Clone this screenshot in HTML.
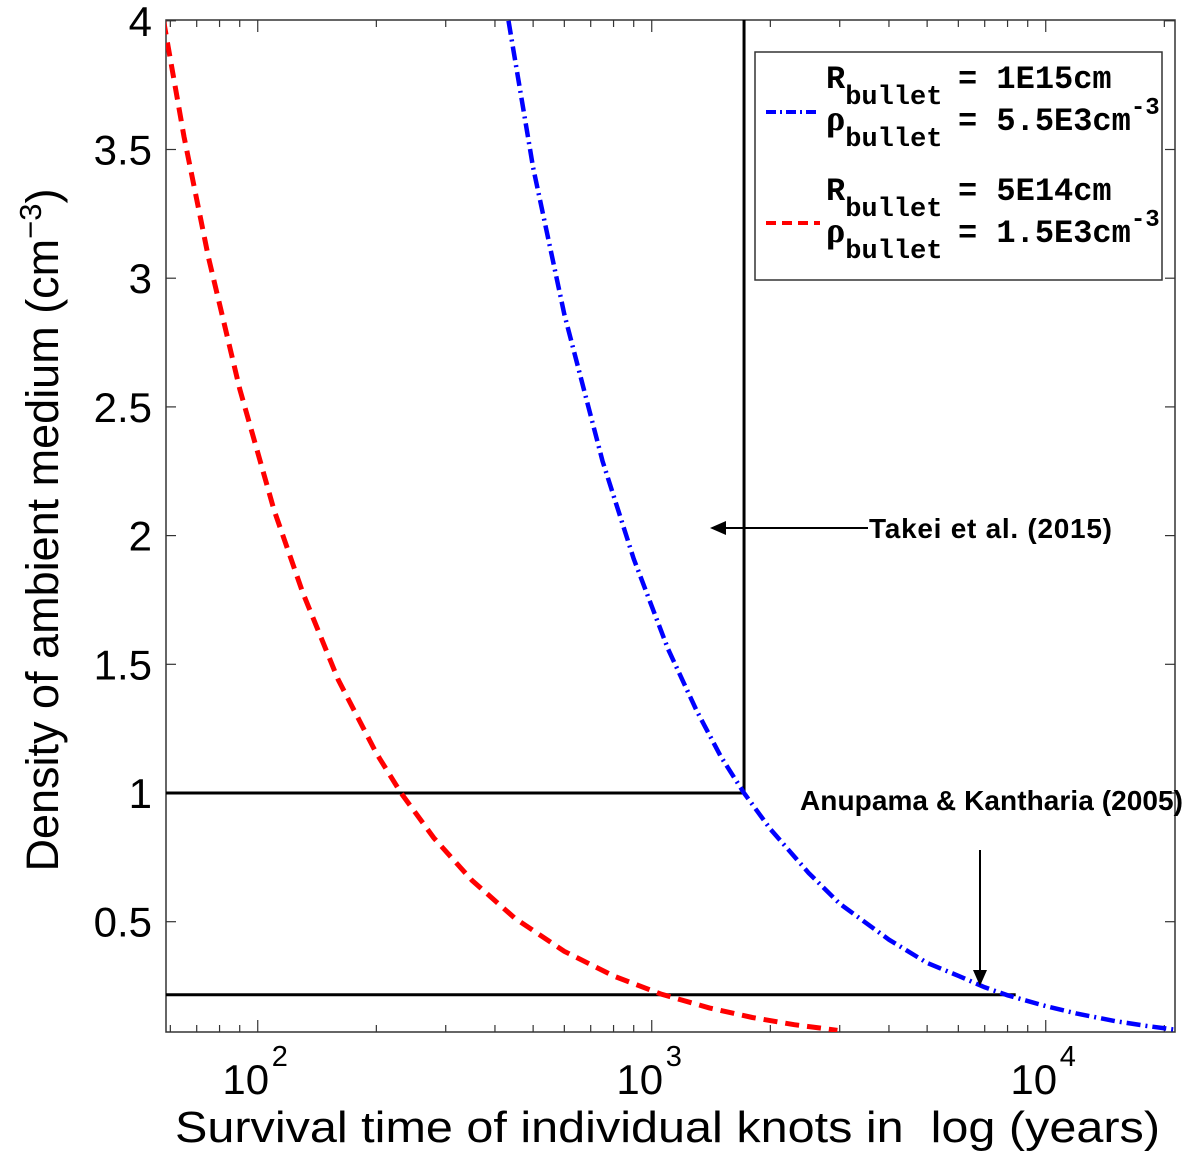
<!DOCTYPE html>
<html><head><meta charset="utf-8"><style>
body{margin:0;background:#fff;}
svg{display:block;font-family:"Liberation Sans",sans-serif;}
</style></head><body>
<svg id="chart" width="1200" height="1159">
<rect x="0" y="0" width="1200" height="1159" fill="#fff"/>
<g id="plot"></g>
</svg>
<script>
const yTicks=[0.5,1,1.5,2,2.5,3,3.5,4];
const yTickLabels=["0.5","1","1.5","2","2.5","3","3.5","4"];
const xMajor=[100,1000,10000];
const xMajorExp=["2","3","4"];
const blueTimes=[433,500,600,750,900,1100,1300,1500,1715,2000,2500,3000,4000,5000,6000,7000,8000,10000,12000,15000,18000,21700];
const blueDensity=[4.0,3.43,2.86,2.29,1.91,1.56,1.32,1.14,1.0,0.86,0.69,0.57,0.43,0.34,0.29,0.245,0.214,0.172,0.143,0.114,0.095,0.079];
const redTimes=[57.7,65,75,90,110,130,160,200,231,280,350,450,600,800,1060,1400,1800,2300,2960];
const redDensity=[4.0,3.55,3.08,2.57,2.1,1.78,1.44,1.155,1.0,0.825,0.66,0.513,0.385,0.289,0.218,0.165,0.128,0.1,0.078];
const takeiTime=1715, takeiDensity=1.0;
const anuTime=8390, anuDensity=0.216;

const L=166,R=1175,T=20,B=1032;
const xMinLog=Math.log10(58.5), dec=394;
function X(t){return L+(Math.log10(t)-xMinLog)*dec;}
const y1px=793, perUnit=257.4;
function Y(v){return y1px-(v-1)*perUnit;}
const g=document.getElementById('plot');
const NS="http://www.w3.org/2000/svg";
function el(tag,attrs,parent){const e=document.createElementNS(NS,tag);for(const k in attrs)e.setAttribute(k,attrs[k]);(parent||g).appendChild(e);return e;}

let box=el('rect',{x:L,y:T,width:R-L,height:B-T,fill:'none',stroke:'#333','stroke-width':1.5});



yTicks.forEach((v,i)=>{
  const y=Y(v);
  let t1=el('line',{x1:L,x2:L+10,y1:y,y2:y,stroke:'#333','stroke-width':1.2});
  
  
  el('line',{x1:R,x2:R-10,y1:y,y2:y,stroke:'#333','stroke-width':1.2});
  let tx=el('text',{x:L-14,y:y+15,'text-anchor':'end','font-size':42,fill:'#000'});
  tx.textContent=yTickLabels[i];
  
  
});
for(let d=1;d<=4;d++){for(let m=1;m<10;m++){const t=m*Math.pow(10,d);const x=X(t);if(x<L-0.5||x>R+0.5)continue;
  const len=m===1?12:7;
  let tk=el('line',{x1:x,x2:x,y1:B,y2:B-len,stroke:'#333','stroke-width':1.2});
  
  
  el('line',{x1:x,x2:x,y1:T,y2:T+len,stroke:'#333','stroke-width':1.2});
}}
xMajor.forEach((t,i)=>{
  const x=X(t);
  let tx=el('text',{x:x-12,y:1094,'text-anchor':'middle','font-size':42,fill:'#000'});
  tx.textContent='10';
  
  
  let ex=el('text',{x:x+14,y:1066,'font-size':29,fill:'#000'});
  ex.textContent=xMajorExp[i];
});
let xt=el('text',{x:175,y:1142,'font-size':44,fill:'#000',style:'white-space:pre',textLength:985,lengthAdjust:'spacingAndGlyphs'});
xt.textContent='Survival time of individual knots in  log (years)';


let yt=el('text',{transform:'translate(58,530) rotate(-90)','text-anchor':'middle','font-size':45,fill:'#000'});
yt.innerHTML='Density of ambient medium (cm<tspan font-size="31" dy="-17">−3</tspan><tspan dy="17">)</tspan>';



const ln=(a,name)=>{let e=el('line',Object.assign({stroke:'#000','stroke-width':3},a));};
ln({x1:L,x2:X(takeiTime),y1:Y(takeiDensity),y2:Y(takeiDensity)},'takei-horizontal-line');
ln({x1:X(takeiTime),x2:X(takeiTime),y1:T,y2:Y(takeiDensity)},'takei-vertical-line');
ln({x1:L,x2:X(anuTime),y1:Y(anuDensity),y2:Y(anuDensity)},'anupama-horizontal-line');

function path(ts,vs){return ts.map((t,i)=>(i?'L':'M')+X(t).toFixed(1)+','+Y(vs[i]).toFixed(1)).join(' ');}
let cp=el('clipPath',{id:'clp'});el('rect',{x:L,y:T-2,width:R-L,height:B-T+2},cp);
let g2=el('g',{'clip-path':'url(#clp)'});
let bl=el('path',{d:path(blueTimes,blueDensity),fill:'none',stroke:'#0000ff','stroke-width':4.5,'stroke-dasharray':'14,5,2,5'},g2);


let rd=el('path',{d:path(redTimes,redDensity),fill:'none',stroke:'#ff0000','stroke-width':5,'stroke-dasharray':'14,8'},g2);



let a1=el('line',{x1:868,x2:718,y1:528,y2:528,stroke:'#000','stroke-width':2});


el('path',{d:'M710,528 L726,521 L726,535 Z',fill:'#000'});
let at=el('text',{x:869,y:538,'font-size':28,'font-weight':'bold',fill:'#000',textLength:243});
at.textContent='Takei et al. (2015)';


let a2=el('line',{x1:980,x2:980,y1:850,y2:976,stroke:'#000','stroke-width':2});


el('path',{d:'M980,986 L973,970 L987,970 Z',fill:'#000'});
let bt=el('text',{x:800,y:810,'font-size':28,'font-weight':'bold',fill:'#000',textLength:383});
bt.textContent='Anupama & Kantharia (2005)';



let lg=el('g',{});


el('rect',{x:755,y:52,width:407,height:228,fill:'#fff',stroke:'#333','stroke-width':1.5},lg);
function entry(y0,ly,color,dash,rv,pv,name){
  let e=el('g',{},lg);
  
  
  el('line',{x1:766,x2:820,y1:ly,y2:ly,stroke:color,'stroke-width':4,'stroke-dasharray':dash},e);
  const f='font-family:"Liberation Mono",monospace;font-weight:bold;';
  let t=el('text',{x:826,y:y0,'font-size':32,style:f},e);
  t.innerHTML='R<tspan font-size="27" dy="16">bullet</tspan><tspan dy="-16" x="958">= '+rv+'</tspan>';
  let t2=el('text',{x:826,y:y0+42,'font-size':32,style:f},e);
  t2.innerHTML='<tspan font-family="Liberation Serif" font-size="36">ρ</tspan><tspan font-size="27" dy="16">bullet</tspan><tspan dy="-16" x="958">= '+pv+'cm</tspan><tspan font-size="24" dy="-16">-3</tspan>';
}
entry(88,112,'#0000ff','10,4,2,4','1E15cm','5.5E3','legend-entry-blue');
entry(200,223,'#ff0000','10,6','5E14cm','1.5E3','legend-entry-red');
</script>
</body></html>
